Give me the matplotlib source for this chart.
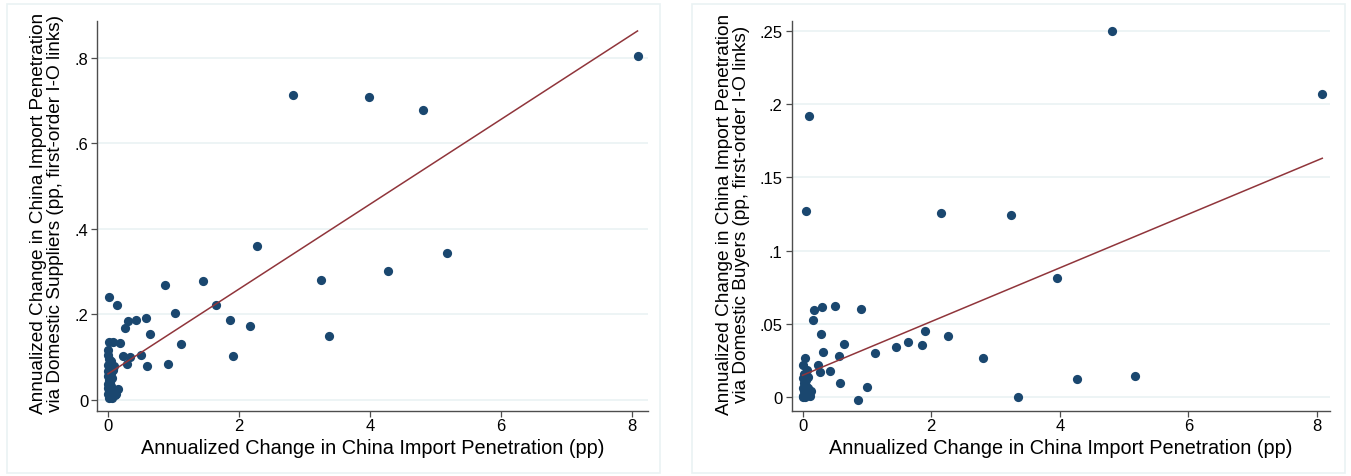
import matplotlib
matplotlib.use("Agg")
import matplotlib.pyplot as plt
from matplotlib.patches import Rectangle

plt.rcParams["font.family"] = ["Liberation Sans", "DejaVu Sans"]

NAVY = "#1a476f"
MAROON = "#90353b"
GRID = "#eaf2f3"
SPINE = "#4d4d4d"

# left panel: domestic suppliers
sup_x = [0.01, 0.14, 2.28, 0.87, 1.45, 3.25, 1.65, 1.02, 1.86, 2.16, 3.37, 0.58, 0.42,
         0.30, 0.26, 0.64, 1.12, 1.90, 0.92, 0.59, 0.51, 0.33, 0.23, 0.29, 0.19, 0.08,
         0.02, 2.82, 3.98, 4.81, 5.17, 4.28, 8.08,
         0.0, 0.0, 0.02, 0.05, 0.0, 0.03, 0.07, 0.0, 0.04, 0.0, 0.06, 0.01, 0.03, 0.0,
         0.05, 0.0, 0.02, 0.08, 0.0, 0.04, 0.01, 0.12, 0.10, 0.15, 0.06, 0.08, 0.09]
sup_y = [0.240, 0.221, 0.359, 0.268, 0.279, 0.281, 0.222, 0.2035, 0.186, 0.173, 0.150,
         0.192, 0.186, 0.184, 0.169, 0.154, 0.131, 0.103, 0.083, 0.080, 0.106, 0.100,
         0.104, 0.083, 0.133, 0.135, 0.136, 0.714, 0.709, 0.677, 0.344, 0.301, 0.805,
         0.117, 0.106, 0.097, 0.090, 0.082, 0.077, 0.072, 0.068, 0.063, 0.057, 0.052,
         0.047, 0.042, 0.037, 0.033, 0.028, 0.022, 0.018, 0.013, 0.009, 0.005, 0.015,
         0.011, 0.026, 0.005, 0.070, 0.080]
sup_fit_x = [0.0, 8.08]
sup_fit_y = [0.061, 0.863]

# right panel: domestic buyers
buy_x = [3.96, 0.50, 0.31, 0.18, 0.915, 0.16, 0.29, 1.90, 2.26, 1.64, 1.86, 1.45, 0.65,
         0.32, 1.12, 0.575, 2.81, 0.04, 0.0, 0.235, 0.27, 0.42, 0.07, 0.09, 0.585, 1.01,
         0.87, 3.35, 4.81, 8.08, 0.094, 0.047, 2.16, 3.24, 4.27, 5.17,
         0.0, 0.02, 0.05, 0.0, 0.03, 0.08, 0.0, 0.04, 0.10, 0.13, 0.06, 0.02, 0.08,
         0.01, 0.11]
buy_y = [0.0811, 0.0624, 0.0613, 0.0592, 0.0599, 0.0529, 0.0432, 0.0450, 0.0417, 0.0376,
         0.0356, 0.0342, 0.0365, 0.0306, 0.0304, 0.0282, 0.0268, 0.0266, 0.0220, 0.0223,
         0.0173, 0.0176, 0.0185, 0.0140, 0.0095, 0.0072, -0.0018, 0.0005, 0.2495, 0.2069,
         0.1916, 0.1272, 0.1258, 0.1242, 0.0127, 0.0143,
         0.013, 0.010, 0.008, 0.006, 0.004, 0.002, 0.001, 0.000, 0.003, 0.004, 0.012,
         0.016, 0.006, 0.000, 0.001]
buy_fit_x = [0.0, 8.08]
buy_fit_y = [0.015, 0.163]

x_ticks = [0, 2, 4, 6, 8]
sup_ticks = [0, 0.2, 0.4, 0.6, 0.8]
sup_labels = ["0", ".2", ".4", ".6", ".8"]
buy_ticks = [0, 0.05, 0.1, 0.15, 0.2, 0.25]
buy_labels = ["0", ".05", ".1", ".15", ".2", ".25"]

xlabel = "Annualized Change in China Import Penetration (pp)"
sup_ylabel = "Annualized Change in China Import Penetration\nvia Domestic Suppliers (pp, first-order I-O links)"
buy_ylabel = "Annualized Change in China Import Penetration\nvia Domestic Buyers (pp, first-order I-O links)"

W, H = 1351, 477
fig = plt.figure(figsize=(W / 100, H / 100), dpi=100)

# panel frames
for x0, x1 in [(7, 660), (692, 1345)]:
    fig.patches.append(Rectangle((x0 / W, 1 - 474 / H), (x1 - x0) / W, 469 / H,
                                 transform=fig.transFigure, facecolor="none",
                                 edgecolor=GRID, linewidth=1.2, zorder=-1))


def panel(rect, xs, ys, fx, fy, yticks, ylabels, ylabel, xlim, ylim, ylab_x):
    ax = fig.add_axes(rect)
    ax.patch.set_alpha(0)
    for t in yticks:
        ax.axhline(t, color=GRID, linewidth=1.2, zorder=0)
    ax.scatter(xs, ys, s=44, color=NAVY, linewidths=0, zorder=3)
    ax.plot(fx, fy, color=MAROON, linewidth=1.1, zorder=4)
    ax.set_xlim(*xlim)
    ax.set_ylim(*ylim)
    ax.set_xticks(x_ticks)
    ax.set_xticklabels([str(t) for t in x_ticks])
    ax.set_yticks(yticks)
    ax.set_yticklabels(ylabels)
    ax.tick_params(direction="out", length=4, width=0.9, color=SPINE, labelsize=12)
    ax.tick_params(axis="x", pad=1.5)
    ax.tick_params(axis="y", pad=2.5)
    for side in ["top", "right"]:
        ax.spines[side].set_visible(False)
    for side in ["left", "bottom"]:
        ax.spines[side].set_color(SPINE)
        ax.spines[side].set_linewidth(1.0)
    ax.set_xlabel(xlabel, fontsize=14.3)
    ax.set_ylabel(ylabel, fontsize=13.7, linespacing=1.0, ha="center")
    ax.xaxis.set_label_coords(0.5, -0.070)
    ax.yaxis.set_label_coords(ylab_x, 0.507)
    return ax


panel([97.5 / W, 1 - 411.5 / H, 550.5 / W, 389.8 / H], sup_x, sup_y, sup_fit_x, sup_fit_y,
      sup_ticks, sup_labels, sup_ylabel, (-0.16, 8.24), (-0.0246, 0.887), -0.061)
panel([791.7 / W, 1 - 411.7 / H, 538.3 / W, 390.0 / H], buy_x, buy_y, buy_fit_x, buy_fit_y,
      buy_ticks, buy_labels, buy_ylabel, (-0.168, 8.20), (-0.00914, 0.2568), -0.0775)

fig.savefig("out.png", dpi=100, facecolor="white")
